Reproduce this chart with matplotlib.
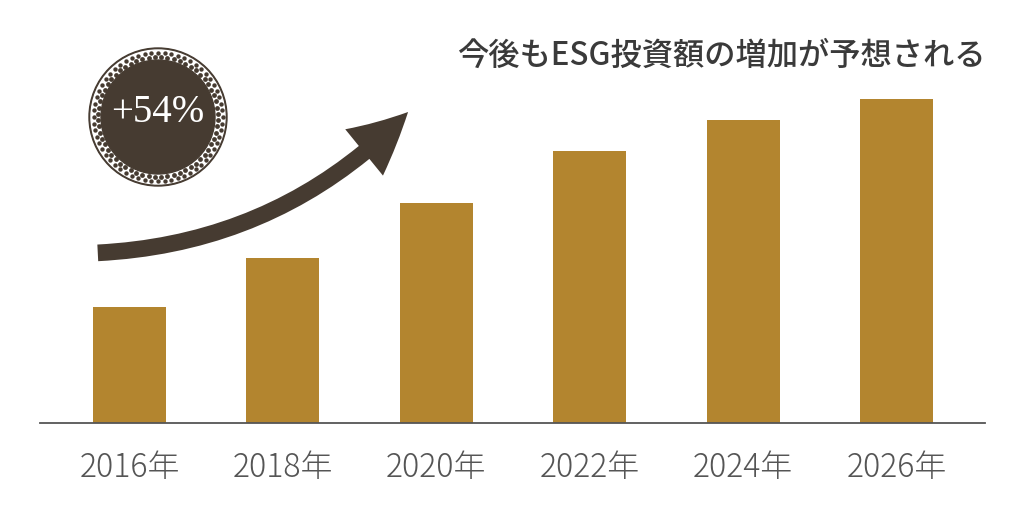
import numpy as np
import matplotlib.pyplot as plt
from matplotlib.patches import Circle, FancyArrowPatch

plt.rcParams['font.family'] = ['Noto Sans CJK JP', 'DejaVu Sans']

# データ
years = ['2016年', '2018年', '2020年', '2022年', '2024年', '2026年']
values = [116, 165, 220, 272, 303, 324]
title = '今後もESG投資額の増加が予想される'
badge = '+54%'

bar_color = '#b3852f'
dark = '#463b31'

fig = plt.figure(figsize=(10.24, 5.22), dpi=100)
ax = fig.add_axes([0, 0.1897, 1, 0.734])
x = np.arange(len(years))
ax.bar(x, values, width=0.476, color=bar_color)

ax.set_xlim(-0.844, 5.83)
ax.set_ylim(0, 383)
for s in ['top', 'right', 'left']:
    ax.spines[s].set_visible(False)
ax.spines['bottom'].set_color('#555555')
ax.spines['bottom'].set_linewidth(1.3)
ax.spines['bottom'].set_bounds(-0.583, 5.577)
ax.set_yticks([])
ax.set_xticks(x)
ax.set_xticklabels(years, fontsize=23, color='#555555', fontweight='light')
ax.tick_params(axis='x', length=0, pad=20)

# タイトル
fig.text(0.9625, 0.893, title, ha='right', va='center', fontsize=22.5,
         color='#3a3a3a', fontweight='medium')

# 矢印
arrow = FancyArrowPatch((95 / 1024, 1 - 253 / 522), (410 / 1024, 1 - 110 / 522),
                        transform=fig.transFigure,
                        connectionstyle='arc3,rad=0.2',
                        arrowstyle='simple,head_width=4.3,head_length=4.3,tail_width=1.2',
                        mutation_scale=10, color=dark, lw=0)
fig.patches.append(arrow)

# バッジ
bax = fig.add_axes([88 / 1024, 1 - 187 / 522, 140 / 1024, 140 / 522])
bax.set_xlim(-70, 70)
bax.set_ylim(-70, 70)
bax.set_aspect('equal')
bax.axis('off')
bax.add_patch(Circle((0, 0), 69, color=dark))
bax.add_patch(Circle((0, 0), 67, color='white'))
th = np.linspace(0, 2 * np.pi, 60, endpoint=False)
for r, off, sz in [(64.5, 0, 10), (60, np.pi / 60, 12)]:
    bax.scatter(r * np.cos(th + off), r * np.sin(th + off), s=sz, color=dark, lw=0)
bax.add_patch(Circle((0, 0), 57, color=dark))
bax.text(0, 4, badge, ha='center', va='center', fontsize=28, color='white',
         family=['Liberation Serif'])

fig.savefig('out.png', dpi=100)
